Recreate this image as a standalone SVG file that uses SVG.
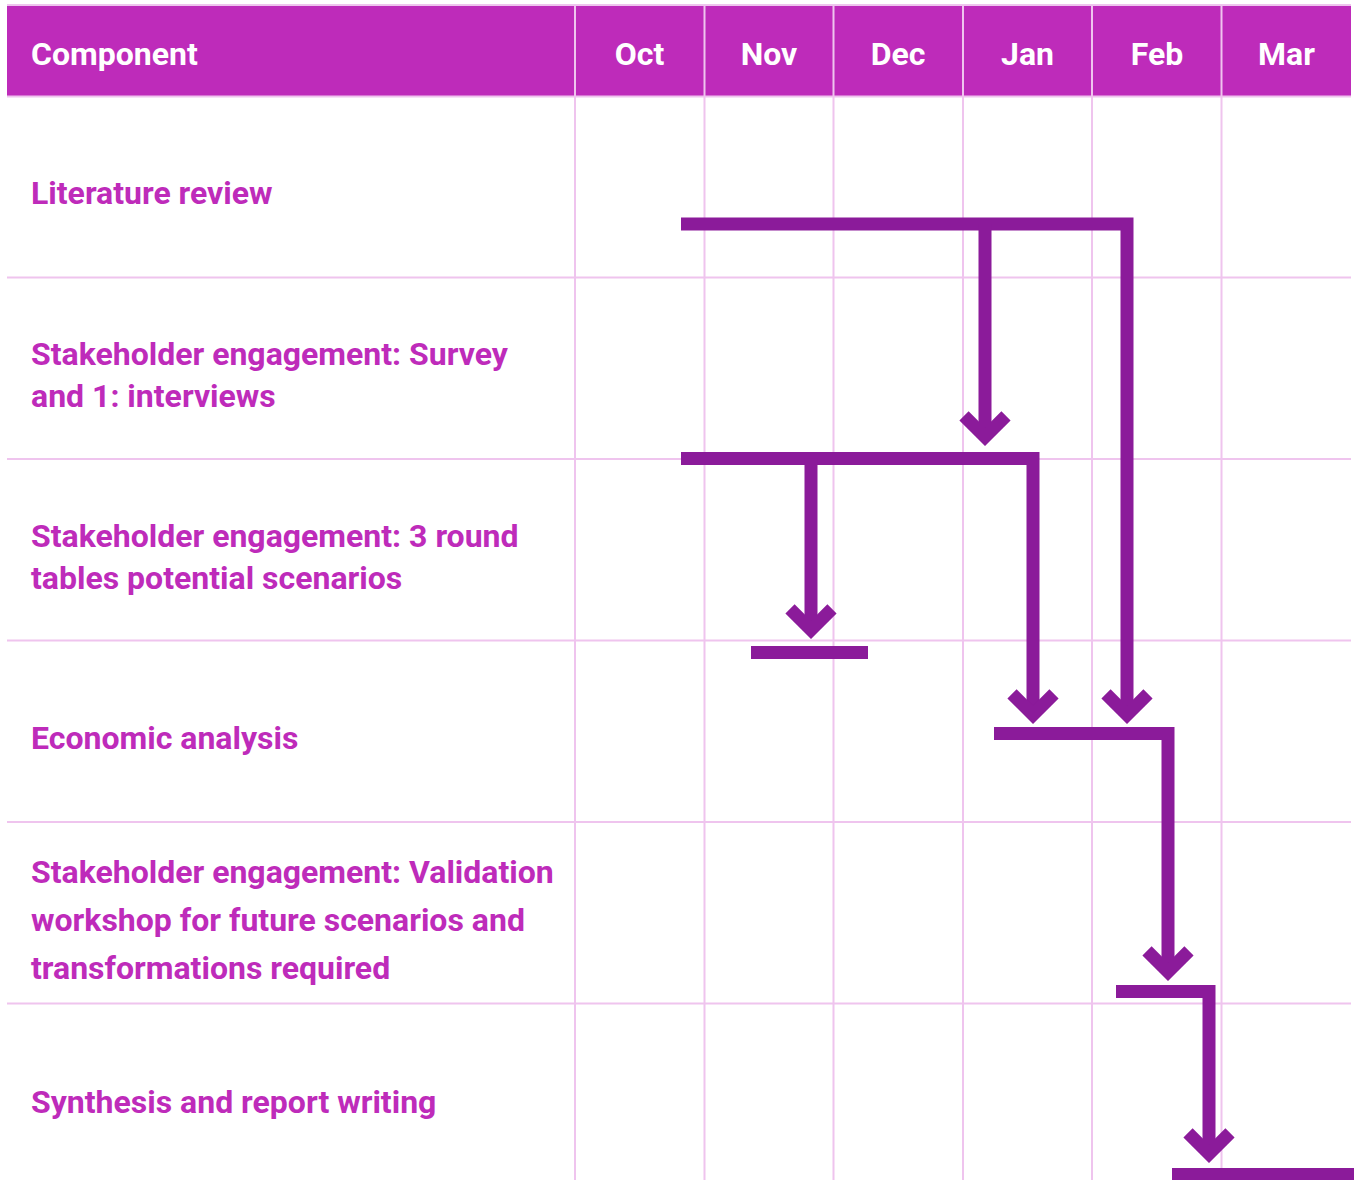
<svg xmlns="http://www.w3.org/2000/svg" width="1356" height="1180" viewBox="0 0 1356 1180">
  <style>
    .grid { stroke: #EFC4EE; stroke-width: 2; fill: none; }
    .head { fill: #BE2BBA; }
    .htxt { font-family: Roboto, "Liberation Sans", sans-serif; font-weight: 700; font-size: 32px; fill: #FFFFFF; }
    .mtxt { text-anchor: middle; }
    .label { font-family: Roboto, "Liberation Sans", sans-serif; font-weight: 700; font-size: 32px; fill: #BE2BBA; }
    .flow { stroke: #8B1B9A; stroke-width: 13; fill: none; stroke-linejoin: miter; stroke-linecap: butt; }
  </style>
  <defs>
    <path id="chev" class="flow" d="M-21,-21 L0,0 L21,-21"/>
  </defs>

  <rect width="1356" height="1180" fill="#FFFFFF"/>

  <!-- header band -->
  <g id="header">
    <rect class="head" x="7" y="5" width="1344" height="91"/>
    <line class="grid" x1="7" y1="5" x2="1351" y2="5" stroke-width="1"/>
    <g class="grid">
      <line x1="575" y1="5" x2="575" y2="96"/>
      <line x1="704.5" y1="5" x2="704.5" y2="96"/>
      <line x1="833.5" y1="5" x2="833.5" y2="96"/>
      <line x1="963" y1="5" x2="963" y2="96"/>
      <line x1="1092" y1="5" x2="1092" y2="96"/>
      <line x1="1221.5" y1="5" x2="1221.5" y2="96"/>
    </g>
    <text class="htxt" x="31" y="65">Component</text>
    <text class="htxt mtxt" x="639.5" y="65">Oct</text>
    <text class="htxt mtxt" x="769" y="65">Nov</text>
    <text class="htxt mtxt" x="898" y="65">Dec</text>
    <text class="htxt mtxt" x="1027.5" y="65">Jan</text>
    <text class="htxt mtxt" x="1157" y="65">Feb</text>
    <text class="htxt mtxt" x="1286.5" y="65">Mar</text>
  </g>

  <!-- table grid -->
  <g id="grid" class="grid">
    <line x1="7" y1="96.5" x2="1351" y2="96.5"/>
    <line x1="7" y1="277.5" x2="1351" y2="277.5"/>
    <line x1="7" y1="459" x2="1351" y2="459"/>
    <line x1="7" y1="640.5" x2="1351" y2="640.5"/>
    <line x1="7" y1="822" x2="1351" y2="822"/>
    <line x1="7" y1="1003.5" x2="1351" y2="1003.5"/>
    <line x1="575" y1="96" x2="575" y2="1180"/>
    <line x1="704.5" y1="96" x2="704.5" y2="1180"/>
    <line x1="833.5" y1="96" x2="833.5" y2="1180"/>
    <line x1="963" y1="96" x2="963" y2="1180"/>
    <line x1="1092" y1="96" x2="1092" y2="1180"/>
    <line x1="1221.5" y1="96" x2="1221.5" y2="1180"/>
  </g>

  <!-- row labels -->
  <g id="row-literature">
    <text class="label" x="31" y="204">Literature review</text>
  </g>
  <g id="row-survey">
    <text class="label" x="31" y="365">Stakeholder engagement: Survey</text>
    <text class="label" x="31" y="407">and 1: interviews</text>
  </g>
  <g id="row-roundtables">
    <text class="label" x="31" y="547">Stakeholder engagement: 3 round</text>
    <text class="label" x="31" y="589">tables potential scenarios</text>
  </g>
  <g id="row-economic">
    <text class="label" x="31" y="749">Economic analysis</text>
  </g>
  <g id="row-validation">
    <text class="label" x="31" y="883">Stakeholder engagement: Validation</text>
    <text class="label" x="31" y="931">workshop for future scenarios and</text>
    <text class="label" x="31" y="979">transformations required</text>
  </g>
  <g id="row-synthesis">
    <text class="label" x="31" y="1113">Synthesis and report writing</text>
  </g>

  <!-- bars and dependency arrows -->
  <g id="connectors">
    <path class="flow" d="M681,224 H1127 V714.8"/>
    <path class="flow" d="M985,224 V436.8"/>
    <use href="#chev" x="985" y="436.8"/>
    <use href="#chev" x="1127" y="714.8"/>

    <path class="flow" d="M681,458.5 H1033 V714.8"/>
    <path class="flow" d="M811,458.5 V629.8"/>
    <use href="#chev" x="811" y="629.8"/>
    <use href="#chev" x="1033" y="714.8"/>

    <path class="flow" d="M751,652.5 H868"/>

    <path class="flow" d="M994,733.5 H1168 V971.8"/>
    <use href="#chev" x="1168" y="971.8"/>

    <path class="flow" d="M1116,991.5 H1209 V1153.8"/>
    <use href="#chev" x="1209" y="1153.8"/>

    <path class="flow" d="M1172,1174.5 H1354"/>
  </g>
</svg>
